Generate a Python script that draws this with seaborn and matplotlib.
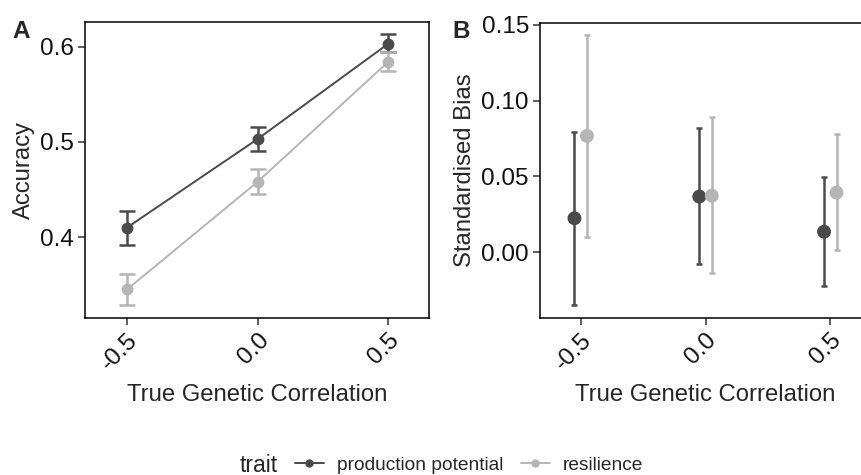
import numpy as np
import pandas as pd
import seaborn as sns
import matplotlib
matplotlib.use("Agg")
import matplotlib.pyplot as plt
from matplotlib.lines import Line2D

# ---------------- data ----------------
corr = [-0.5, 0.0, 0.5]
traits = ["production potential", "resilience"]

acc_prod = [0.410, 0.503, 0.603]
acc_prod_lo = [0.392, 0.490, 0.594]
acc_prod_hi = [0.427, 0.516, 0.613]
acc_res = [0.345, 0.458, 0.584]
acc_res_lo = [0.329, 0.445, 0.574]
acc_res_hi = [0.361, 0.472, 0.595]

bias_prod = [0.0223, 0.0366, 0.0134]
bias_prod_lo = [-0.0352, -0.0081, -0.0225]
bias_prod_hi = [0.0795, 0.0817, 0.0496]
bias_res = [0.0767, 0.0372, 0.0392]
bias_res_lo = [0.0097, -0.0141, 0.0013]
bias_res_hi = [0.1436, 0.0890, 0.0778]

colors = {"production potential": "#4a4a4a", "resilience": "#b5b5b5"}

acc_df = pd.DataFrame({
    "corr": corr * 2,
    "trait": [traits[0]] * 3 + [traits[1]] * 3,
    "val": acc_prod + acc_res,
    "lo": acc_prod_lo + acc_res_lo,
    "hi": acc_prod_hi + acc_res_hi,
})
bias_df = pd.DataFrame({
    "corr": corr * 2,
    "trait": [traits[0]] * 3 + [traits[1]] * 3,
    "val": bias_prod + bias_res,
    "lo": bias_prod_lo + bias_res_lo,
    "hi": bias_prod_hi + bias_res_hi,
})
dodge = {"production potential": -0.025, "resilience": 0.025}
bias_df["xd"] = bias_df["corr"] + bias_df["trait"].map(dodge)

# ---------------- style ----------------
sns.set_theme(style="white")
plt.rcParams["font.family"] = ["Liberation Sans", "DejaVu Sans"]

W, H = 861, 475
fig = plt.figure(figsize=(W / 100, H / 100), dpi=100)

def px_axes(l, t, r, b):
    return fig.add_axes([l / W, 1 - b / H, (r - l) / W, (b - t) / H])

axA = px_axes(85, 22, 429, 318)
axB = px_axes(540, 22.7, 871, 317.7)

# ---- Panel A ----
sns.lineplot(data=acc_df, x="corr", y="val", hue="trait", palette=colors,
             ax=axA, legend=False, linewidth=1.4, marker="o", markersize=8.5,
             markeredgewidth=0, errorbar=None)
for t in traits:
    d = acc_df[acc_df["trait"] == t]
    axA.errorbar(d["corr"], d["val"],
                 yerr=[d["val"] - d["lo"], d["hi"] - d["val"]],
                 fmt="none", ecolor=colors[t], elinewidth=1.8,
                 capsize=6, capthick=1.8, zorder=1)
axA.set_xlim(-0.661, 0.657)
axA.set_ylim(0.315, 0.626)
axA.set_yticks([0.4, 0.5, 0.6])
axA.set_yticklabels(["0.4", "0.5", "0.6"])
axA.set_ylabel("Accuracy")

# ---- Panel B ----
for t in traits:
    d = bias_df[bias_df["trait"] == t]
    axB.errorbar(d["xd"], d["val"],
                 yerr=[d["val"] - d["lo"], d["hi"] - d["val"]],
                 fmt="none", ecolor=colors[t], elinewidth=1.8,
                 capsize=2, capthick=1.8, zorder=1)
sns.scatterplot(data=bias_df, x="xd", y="val", hue="trait", palette=colors,
                ax=axB, legend=False, s=100, linewidth=0, zorder=3)
axB.set_xlim(-0.663, 0.663)
axB.set_ylim(-0.0434, 0.1515)
axB.set_yticks([0.0, 0.05, 0.10, 0.15])
axB.set_yticklabels(["0.00", "0.05", "0.10", "0.15"])
axB.set_ylabel("Standardised Bias")

for ax in (axA, axB):
    ax.set_xticks(corr)
    ax.set_xticklabels(["-0.5", "0.0", "0.5"], rotation=45, ha="right",
                       va="top", rotation_mode="anchor")
    ax.set_xlabel("True Genetic Correlation", fontsize=17.2, labelpad=7)
    ax.yaxis.label.set_size(17.2)
    ax.tick_params(axis="both", which="major", length=5, width=1.1,
                   color="#333333", labelsize=17.5, labelcolor="#111111",
                   pad=3, bottom=True, left=True)
    for s in ax.spines.values():
        s.set_color("black")
        s.set_linewidth(1.1)
    ax.grid(False)

fig.text(12 / W, 1 - 31 / H, "A", fontsize=17.5, fontweight="bold",
         va="center", ha="left")
fig.text(452 / W, 1 - 31 / H, "B", fontsize=17.5, fontweight="bold",
         va="center", ha="left")

# ---- legend ----
handles = [Line2D([0], [0], color=colors[t], marker="o", markersize=6,
                  linewidth=1.4, markeredgewidth=0) for t in traits]
fig.text(240 / W, 1 - 465 / H, "trait", fontsize=16.5, va="center", ha="left")
fig.legend(handles, traits, loc="center left",
           bbox_to_anchor=(295 / W, 1 - 465 / H), ncol=2, frameon=False,
           fontsize=13.8, handlelength=1.5, handletextpad=0.7,
           columnspacing=0.9, borderaxespad=0, borderpad=0)

fig.savefig("out.png", dpi=100)
